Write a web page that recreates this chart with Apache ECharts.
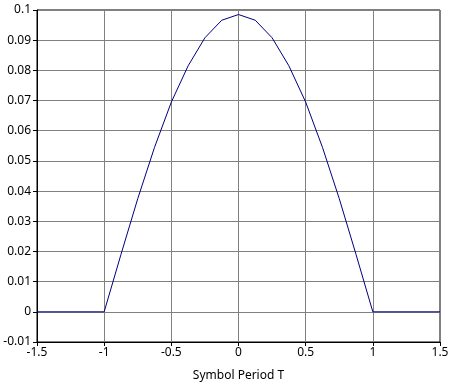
<!DOCTYPE html>
<html><head><meta charset="utf-8">
<script src="https://cdn.jsdelivr.net/npm/echarts@6/dist/echarts.min.js"></script>
<style>html,body{margin:0;padding:0;background:#fff}#c{width:462px;height:387px}</style>
</head><body><div id="c"></div>
<script>
const tValues = [-1.5, -1, -0.875, -0.75, -0.625, -0.5, -0.375, -0.25, -0.125, 0, 0.125, 0.25, 0.375, 0.5, 0.625, 0.75, 0.875, 1, 1.5];
const pulseValues = [0, 0, 0.019, 0.0375, 0.0545, 0.0695, 0.0815, 0.0908, 0.0966, 0.0985, 0.0966, 0.0908, 0.0815, 0.0695, 0.0545, 0.0375, 0.019, 0, 0];
const xLabel = 'Symbol Period T';

const chart = echarts.init(document.getElementById('c'), null, {renderer: 'canvas'});
const font = '"Noto Sans", "Open Sans", sans-serif';
chart.setOption({
  animation: false,
  grid: {left: 37, top: 10, width: 403, height: 332, show: true, borderColor: '#000', borderWidth: 1, backgroundColor: '#fff'},
  xAxis: {
    type: 'value', min: -1.5, max: 1.5, interval: 0.5,
    name: xLabel, nameLocation: 'middle', nameGap: 28,
    nameTextStyle: {color: '#000', fontSize: 12, fontFamily: font},
    axisLine: {show: true, onZero: false, lineStyle: {color: '#000', width: 1}},
    axisTick: {show: true, length: 4, lineStyle: {color: '#000'}},
    axisLabel: {color: '#000', fontSize: 12, fontFamily: font, margin: 5},
    splitLine: {show: true, lineStyle: {color: '#808080', width: 1}}
  },
  yAxis: {
    type: 'value', min: -0.01, max: 0.1, interval: 0.01,
    axisLine: {show: true, onZero: false, lineStyle: {color: '#000', width: 1}},
    axisTick: {show: true, length: 4, lineStyle: {color: '#000'}},
    axisLabel: {color: '#000', fontSize: 12, fontFamily: font, margin: 6,
      formatter: v => String(Math.round(v * 100) / 100)},
    splitLine: {show: true, lineStyle: {color: '#808080', width: 1}}
  },
  series: [{
    type: 'line', data: tValues.map((t, i) => [t, pulseValues[i]]),
    showSymbol: false, lineStyle: {color: '#000080', width: 1}, z: 5
  }]
});
</script></body></html>
